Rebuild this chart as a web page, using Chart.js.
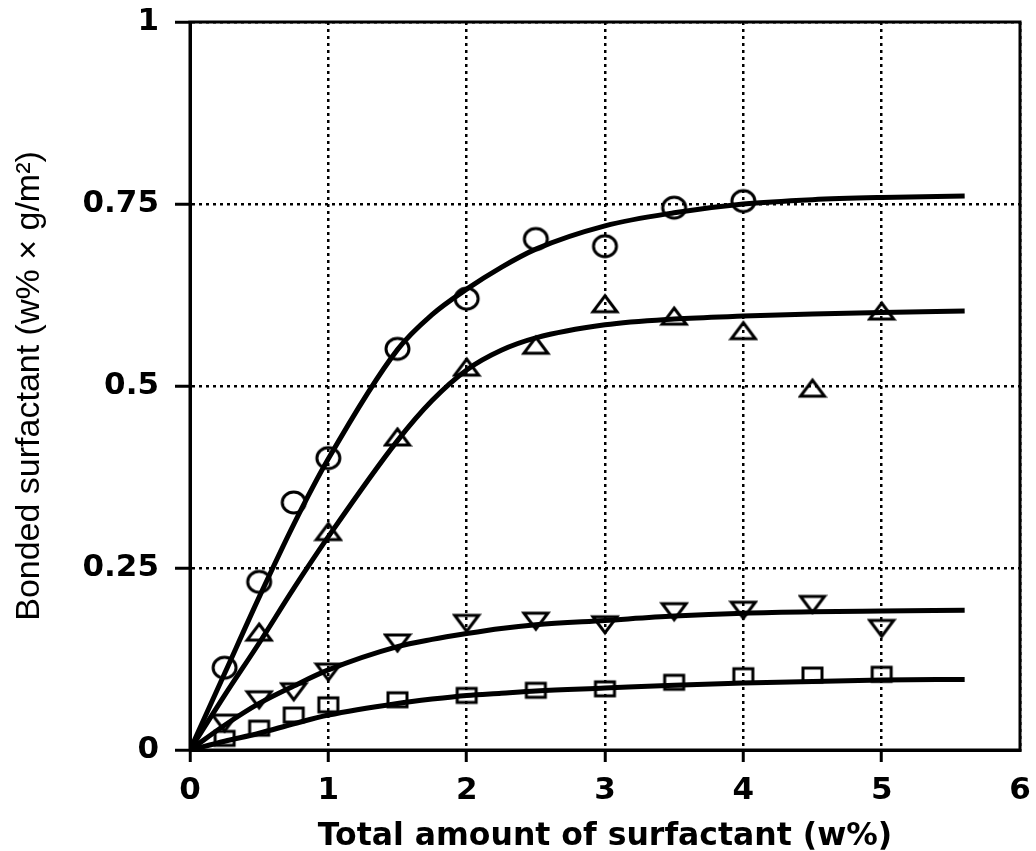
<!DOCTYPE html>
<html>
<head>
<meta charset="utf-8">
<script src="https://cdn.jsdelivr.net/npm/chart.js@4/dist/chart.umd.min.js"></script>
<style>
  html, body { margin: 0; padding: 0; background: #fff; }
  #wrap { width: 1036px; height: 851px; }
</style>
</head>
<body>
<div id="wrap"><canvas id="chart" width="1036" height="851"></canvas></div>
<script>
// Measured points, one pair of arrays per surfactant series
const circleX = [0.25, 0.5, 0.75, 1, 1.5, 2, 2.5, 3, 3.5, 4];
const circleY = [0.113, 0.231, 0.34, 0.401, 0.551, 0.62, 0.702, 0.692, 0.745, 0.754];

const triUpX = [0.5, 1, 1.5, 2, 2.5, 3, 3.5, 4, 4.5, 5];
const triUpY = [0.162, 0.30, 0.43, 0.526, 0.556, 0.613, 0.596, 0.576, 0.497, 0.603];

const triDownX = [0.25, 0.5, 0.75, 1, 1.5, 2, 2.5, 3, 3.5, 4, 4.5, 5];
const triDownY = [0.037, 0.069, 0.08, 0.107, 0.147, 0.174, 0.177, 0.172, 0.19, 0.192, 0.2, 0.167];

const squareX = [0.25, 0.5, 0.75, 1, 1.5, 2, 2.5, 3, 3.5, 4, 4.5, 5];
const squareY = [0.016, 0.03, 0.048, 0.062, 0.069, 0.075, 0.082, 0.084, 0.093, 0.102, 0.103, 0.104];

// Fitted curves, sampled along the same x values
const curveX = [0, 0.25, 0.5, 0.75, 1, 1.5, 1.75, 2, 2.25, 2.5, 3, 3.5, 4, 4.5, 5, 5.6];
const circleFit = [0, 0.105, 0.21, 0.31, 0.40, 0.55, 0.598, 0.633, 0.663, 0.688, 0.72, 0.738, 0.75, 0.756, 0.759, 0.761];
const triUpFit = [0, 0.075, 0.147, 0.222, 0.293, 0.425, 0.48, 0.522, 0.549, 0.566, 0.584, 0.592, 0.596, 0.599, 0.601, 0.603];
const triDownFit = [0, 0.034, 0.064, 0.088, 0.11, 0.142, 0.152, 0.16, 0.167, 0.172, 0.178, 0.184, 0.188, 0.19, 0.191, 0.192];
const squareFit = [0, 0.012, 0.023, 0.036, 0.048, 0.064, 0.07, 0.075, 0.078, 0.081, 0.085, 0.089, 0.092, 0.094, 0.096, 0.097];

// Tick labels
const xTicks = ['0', '1', '2', '3', '4', '5', '6'];
const yTicks = ['0', '0.25', '0.5', '0.75', '1'];

const pts = (xs, ys) => xs.map((x, i) => ({ x: x, y: ys[i] }));

// Open marker glyphs drawn once on small canvases
function marker(shape, w, h, lw) {
  const c = document.createElement('canvas');
  c.width = w + lw * 2;
  c.height = h + lw * 2;
  const g = c.getContext('2d');
  const x0 = lw, y0 = lw, cx = c.width / 2, cy = c.height / 2;
  g.strokeStyle = '#000';
  g.lineWidth = lw;
  g.beginPath();
  if (shape === 'ellipse') {
    g.ellipse(cx, cy, w / 2, h / 2, 0, 0, Math.PI * 2);
  } else if (shape === 'up') {
    g.moveTo(cx, y0); g.lineTo(x0 + w, y0 + h); g.lineTo(x0, y0 + h); g.closePath();
  } else if (shape === 'down') {
    g.moveTo(x0, y0); g.lineTo(x0 + w, y0); g.lineTo(cx, y0 + h); g.closePath();
  } else {
    g.rect(x0, y0, w, h);
  }
  g.stroke();
  return c;
}

const icoCircle = marker('ellipse', 23, 21, 3);
const icoUp = marker('up', 24, 16, 3);
const icoDown = marker('down', 24, 16, 3);
const icoSquare = marker('rect', 19, 14, 3);

const fitLine = (data) => ({
  data: data,
  showLine: true,
  borderColor: '#000',
  borderWidth: 5,
  pointRadius: 0,
  cubicInterpolationMode: 'monotone',
  fill: false,
  order: 2,
});

const markerSet = (data, ico) => ({
  data: data,
  showLine: false,
  pointStyle: ico,
  pointRadius: 12,
  borderColor: '#000',
  backgroundColor: 'transparent',
  order: 1,
});

// Frame round the plot area
const frame = {
  id: 'frame',
  afterDatasetsDraw(chart) {
    const { ctx, chartArea: a } = chart;
    ctx.save();
    ctx.strokeStyle = '#000';
    ctx.lineWidth = 3;
    ctx.strokeRect(a.left, a.top, a.right - a.left, a.bottom - a.top);
    ctx.restore();
  },
};

const tickFont = { family: '"DejaVu Sans", sans-serif', size: 31, weight: 'bold' };

new Chart(document.getElementById('chart'), {
  type: 'scatter',
  data: {
    datasets: [
      fitLine(pts(curveX, circleFit)),
      fitLine(pts(curveX, triUpFit)),
      fitLine(pts(curveX, triDownFit)),
      fitLine(pts(curveX, squareFit)),
      markerSet(pts(circleX, circleY), icoCircle),
      markerSet(pts(triUpX, triUpY), icoUp),
      markerSet(pts(triDownX, triDownY), icoDown),
      markerSet(pts(squareX, squareY), icoSquare),
    ],
  },
  options: {
    responsive: false,
    animation: false,
    layout: { padding: { top: 22, right: 16, left: 0, bottom: 0 } },
    plugins: { legend: { display: false }, tooltip: { enabled: false } },
    scales: {
      x: {
        type: 'linear',
        min: 0,
        max: 6,
        // fixed box height; label overflow is covered by the layout padding
        afterFit(s) { s.height = 101; s.paddingLeft = 0; s.paddingRight = 0; },
        ticks: {
          stepSize: 1,
          color: '#000',
          font: tickFont,
          padding: 10,
          maxRotation: 0,
          callback: (v) => xTicks[v],
        },
        grid: {
          color: '#000',
          lineWidth: 2.5,
          tickLength: 12,
          tickWidth: 3,
          tickColor: (c) => (c.tick && c.tick.value === 6 ? 'rgba(0,0,0,0)' : '#000'),
        },
        border: { display: true, color: '#000', width: 3, dash: [3, 4] },
        title: {
          display: true,
          text: 'Total amount of surfactant (w%)',
          color: '#000',
          font: { family: '"DejaVu Sans", sans-serif', size: 31.5, weight: 'bold', lineHeight: 1 },
          padding: { top: 0, bottom: -2 },
        },
      },
      y: {
        type: 'linear',
        min: 0,
        max: 1,
        afterFit(s) { s.width = 190; s.paddingTop = 0; s.paddingBottom = 0; },
        ticks: {
          stepSize: 0.25,
          color: '#000',
          font: tickFont,
          padding: 16,
          callback: (v) => yTicks[Math.round(v * 4)],
        },
        grid: {
          color: '#000',
          lineWidth: 2.5,
          tickLength: 15,
          tickWidth: 3,
        },
        border: { display: true, color: '#000', width: 3, dash: [3, 4] },
        title: {
          display: true,
          text: 'Bonded surfactant (w% × g/m²)',
          color: '#000',
          font: { family: '"Liberation Sans", Arial, sans-serif', size: 34, weight: 'normal', lineHeight: 1 },
          padding: { top: 13, bottom: 0 },
        },
      },
    },
  },
  plugins: [frame],
});
</script>
</body>
</html>
